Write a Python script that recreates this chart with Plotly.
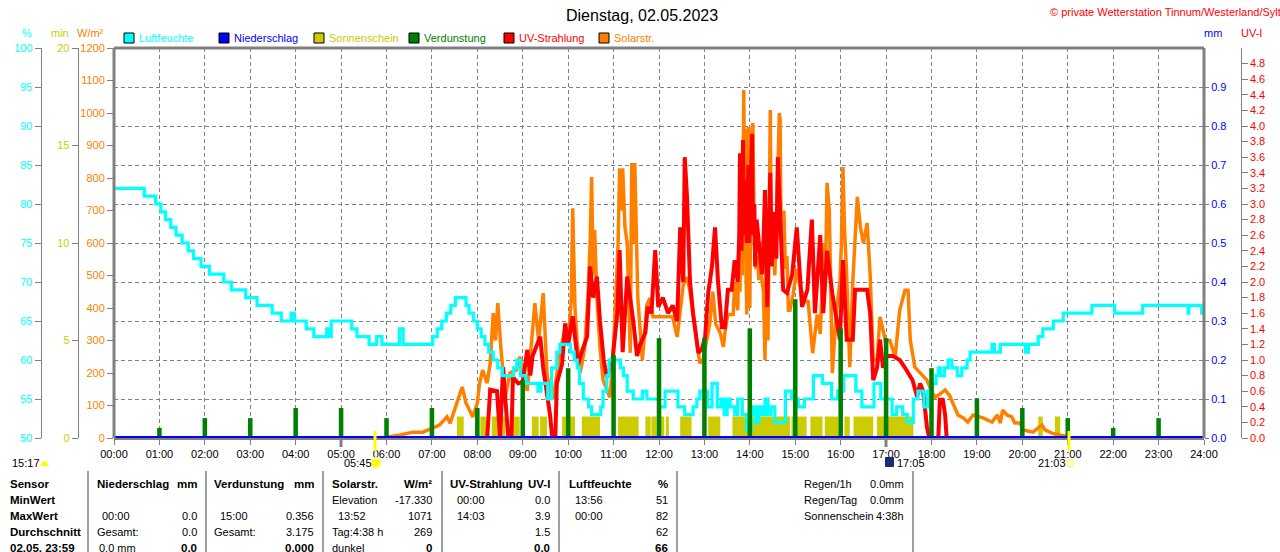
import plotly.graph_objects as go

# Wetterdaten Dienstag, 02.05.2023
hum_time = ["00:00", "00:40", "00:55", "01:02", "01:08", "01:15", "01:22", "01:30", "01:38", "01:45",
            "01:55", "02:06", "02:25", "02:35", "02:54", "03:09", "03:29", "03:41", "03:54", "03:58",
            "04:14", "04:24", "04:41", "04:45", "04:47", "05:14", "05:21", "05:37", "05:47", "05:54",
            "06:17", "06:22", "07:01", "07:07", "07:13", "07:19", "07:25", "07:31", "07:45", "07:49",
            "07:55", "08:00", "08:05", "08:10", "08:15", "08:21", "08:27", "08:33", "08:48", "08:52",
            "08:57", "09:04", "09:20", "09:24", "09:33", "09:38", "09:45", "09:49", "10:03", "10:08",
            "10:12", "10:15", "10:20", "10:27", "10:31", "10:43", "10:46", "10:51", "10:54", "11:09",
            "11:13", "11:18", "11:26", "11:38", "11:44", "12:00", "12:08", "12:25", "12:34", "12:45",
            "12:50", "12:54", "13:04", "13:10", "13:17", "13:22", "13:26", "13:30", "13:34", "13:40",
            "13:44", "13:50", "13:56", "14:02", "14:05", "14:08", "14:12", "14:16", "14:20", "14:24",
            "14:28", "14:33", "14:38", "14:47", "14:55", "15:04", "15:12", "15:24", "15:36", "15:48",
            "15:56", "16:04", "16:20", "16:28", "16:44", "16:53", "17:00", "17:08", "17:14", "17:22",
            "17:28", "17:36", "17:42", "17:50", "17:55", "18:01", "18:06", "18:09", "18:12", "18:17",
            "18:22", "18:27", "18:34", "18:40", "18:47", "18:51", "19:20", "19:23", "19:31", "20:04",
            "20:08", "20:21", "20:27", "20:41", "20:54", "21:32", "22:02", "22:39", "23:39", "23:40",
            "23:57", "24:00"]
hum_val = [82, 81, 80, 79, 78, 77, 76, 75, 74, 73,
           72, 71, 70, 69, 68, 67, 66, 65, 66, 65,
           64, 63, 64, 63, 65, 64, 63, 62, 63, 62,
           64, 62, 63, 64, 65, 66, 67, 68, 67, 66,
           65, 64, 63, 62, 61, 60, 59, 58, 59, 60,
           58, 57, 56, 57, 55, 59, 61, 62, 61, 60,
           59, 57, 55, 54, 53, 54, 56, 58, 60, 59,
           58, 56, 55, 56, 55, 54, 56, 54, 53, 54,
           55, 56, 54, 57, 54, 55, 53, 55, 54, 53,
           55, 53, 51, 53, 54, 52, 54, 53, 55, 53,
           54, 52, 52, 56, 55, 54, 55, 58, 57, 55,
           56, 58, 56, 54, 57, 55, 55, 53, 54, 53,
           52, 55, 56, 54, 56, 57, 58, 59, 58, 59,
           60, 59, 58, 59, 60, 61, 62, 61, 62, 61,
           62, 63, 64, 65, 66, 67, 66, 67, 66, 67,
           66, 66]

solar_time = ["05:45", "06:00", "06:18", "06:35", "06:48", "07:01", "07:10", "07:20", "07:24", "07:33",
              "07:40", "07:45", "07:54", "08:00", "08:03", "08:07", "08:13", "08:17", "08:21", "08:24",
              "08:27", "08:31", "08:37", "08:43", "08:52", "08:56", "09:06", "09:16", "09:21", "09:27",
              "09:32", "09:36", "09:40", "09:49", "09:56", "10:00", "10:04", "10:06", "10:09", "10:12",
              "10:16", "10:22", "10:26", "10:29", "10:31", "10:33", "10:35", "10:38", "10:42", "10:46",
              "10:55", "10:59", "11:04", "11:06", "11:08", "11:10", "11:12", "11:15", "11:18", "11:22",
              "11:24", "11:26", "11:28", "11:32", "11:38", "11:44", "11:48", "11:52", "12:05", "12:18",
              "12:24", "12:32", "12:37", "12:41", "12:52", "12:54", "12:58", "13:03", "13:07", "13:11",
              "13:15", "13:21", "13:25", "13:27", "13:31", "13:38", "13:40", "13:44", "13:46", "13:47",
              "13:49", "13:50", "13:51", "13:52", "13:53", "13:54", "13:55", "13:56", "13:57", "13:58",
              "13:59", "14:00", "14:01", "14:02", "14:03", "14:04", "14:05", "14:06", "14:08", "14:10",
              "14:12", "14:14", "14:16", "14:18", "14:20", "14:22", "14:24", "14:26", "14:27", "14:28",
              "14:29", "14:31", "14:33", "14:35", "14:37", "14:39", "14:40", "14:41", "14:43", "14:45",
              "14:47", "14:49", "14:51", "14:53", "14:57", "15:02", "15:06", "15:13", "15:17", "15:23",
              "15:29", "15:33", "15:38", "15:40", "15:42", "15:45", "15:49", "15:54", "15:59", "16:01",
              "16:03", "16:05", "16:08", "16:12", "16:16", "16:19", "16:22", "16:26", "16:30", "16:35",
              "16:39", "16:43", "16:48", "16:52", "16:59", "17:05", "17:12", "17:18", "17:25", "17:29",
              "17:32", "17:38", "17:45", "17:54", "18:01", "18:05", "18:11", "18:18", "18:24", "18:31",
              "18:35", "18:42", "18:48", "18:55", "19:08", "19:20", "19:27", "19:31", "19:34", "19:40",
              "19:46", "19:50", "19:57", "20:01", "20:14", "20:21", "20:26", "20:30", "20:39", "20:50",
              "20:56", "21:02"]
solar_val = [0, 2, 9, 18, 18, 31, 40, 65, 45, 108,
             157, 108, 65, 108, 169, 209, 169, 230, 384, 300,
             415, 280, 126, 200, 210, 250, 145, 415, 300, 446,
             200, 138, 120, 260, 340, 300, 420, 707, 400, 290,
             200, 280, 430, 600, 803, 500, 640, 430, 280, 180,
             125, 230, 500, 600, 830, 700, 830, 650, 600, 262,
             846, 600, 846, 430, 240, 410, 430, 373, 373, 373,
             311, 470, 495, 450, 260, 230, 240, 300, 350, 450,
             350, 323, 280, 323, 380, 380, 480, 393, 600, 450,
             850, 500, 1040, 1071, 700, 950, 500, 380, 900, 957,
             600, 400, 700, 950, 957, 969, 800, 600, 520, 560,
             486, 520, 486, 450, 240, 600, 300, 900, 1009, 700,
             550, 600, 500, 650, 800, 1000, 980, 700, 600, 700,
             520, 560, 393, 393, 440, 520, 470, 420, 420, 261,
             380, 320, 600, 500, 785, 700, 200, 380, 480, 600,
             834, 650, 500, 218, 480, 600, 742, 650, 600, 661,
             500, 240, 240, 373, 300, 300, 250, 393, 455, 455,
             300, 218, 200, 178, 138, 126, 135, 148, 130, 95,
             71, 62, 49, 71, 62, 49, 71, 46, 86, 70,
             65, 46, 46, 25, 18, 31, 40, 25, 15, 9,
             6, 0]

uv_time = ["08:00", "08:13", "08:17", "08:23", "08:26", "08:30", "08:34", "08:37", "08:41", "08:45",
           "08:47", "08:54", "09:00", "09:06", "09:10", "09:13", "09:23", "09:27", "09:32", "09:36",
           "09:39", "09:43", "09:45", "09:52", "09:56", "10:00", "10:06", "10:13", "10:18", "10:25",
           "10:29", "10:33", "10:38", "10:42", "10:47", "10:51", "10:58", "11:05", "11:08", "11:12",
           "11:18", "11:22", "11:26", "11:31", "11:35", "11:42", "11:45", "11:50", "11:55", "11:59",
           "12:05", "12:12", "12:18", "12:24", "12:28", "12:32", "12:34", "12:37", "12:39", "12:41",
           "12:45", "12:50", "12:52", "12:57", "13:01", "13:05", "13:10", "13:14", "13:18", "13:23",
           "13:27", "13:31", "13:36", "13:40", "13:44", "13:46", "13:47", "13:49", "13:50", "13:51",
           "13:52", "13:54", "13:56", "13:58", "13:59", "14:01", "14:03", "14:04", "14:06", "14:07",
           "14:09", "14:11", "14:14", "14:16", "14:18", "14:20", "14:23", "14:25", "14:27", "14:29",
           "14:31", "14:33", "14:35", "14:37", "14:40", "14:44", "14:49", "14:56", "15:02", "15:06",
           "15:09", "15:16", "15:22", "15:26", "15:33", "15:37", "15:42", "15:49", "15:53", "15:59",
           "16:03", "16:08", "16:16", "16:19", "16:28", "16:35", "16:39", "16:43", "16:48", "16:52",
           "16:56", "17:01", "17:09", "17:18", "17:25", "17:31", "17:35", "17:41", "17:45", "17:49",
           "17:51", "17:54", "17:57", "18:09", "18:11", "18:15", "18:18", "18:20"]
uv_val = [0, 0, 0.62, 0.6, 0.6, 0, 0.91, 0.5, 0, 0,
          0.78, 0.7, 0.72, 1.13, 0.8, 1.05, 1.3, 0.9, 0.6, 0.3,
          0, 0, 0.7, 0.95, 1.47, 1.2, 1.56, 0.95, 1.1, 1.3,
          2.2, 1.8, 2.07, 1.5, 1.0, 0.78, 0.95, 1.6, 2.41, 1.1,
          2.07, 1.8, 1.5, 1.05, 1.2, 1.35, 1.68, 1.6, 2.41, 1.68,
          1.8, 1.6, 1.7, 1.5, 2.7, 2.0, 3.6, 3.09, 2.5, 2.0,
          1.6, 1.2, 1.09, 1.15, 1.3, 1.86, 2.2, 2.7, 2.0, 1.42,
          1.42, 1.9, 1.9, 2.28, 2.0, 2.6, 3.65, 2.4, 3.0, 3.82,
          2.6, 3.3, 2.5, 3.5, 2.5, 3.1, 3.9, 2.6, 3.0, 2.2,
          2.8, 2.6, 2.3, 2.1, 2.5, 3.18, 1.68, 2.6, 3.4, 2.2,
          2.9, 2.6, 2.3, 3.6, 2.8, 1.9, 1.86, 2.1, 2.7, 2.0,
          1.68, 1.9, 2.8, 1.6, 2.6, 1.6, 2.4, 1.85, 1.6, 1.26,
          2.28, 1.26, 1.26, 1.9, 1.9, 1.9, 1.6, 0.74, 0.9, 1.26,
          0.9, 1.05, 1.05, 1.0, 0.9, 0.8, 0.74, 0.53, 0.7, 0.6,
          0.42, 0.14, 0, 0, 0.49, 0.49, 0.3, 0]

evap_time = ["01:00", "02:00", "03:00", "04:00", "05:00", "06:00", "07:00", "08:00", "09:00", "10:00",
             "11:00", "12:00", "13:00", "14:00", "15:00", "16:00", "17:00", "18:00", "19:00", "20:00",
             "21:00", "22:00", "23:00"]
evap_val = [0.026, 0.051, 0.051, 0.077, 0.077, 0.051, 0.077, 0.077, 0.149, 0.179,
            0.213, 0.256, 0.256, 0.281, 0.356, 0.281, 0.256, 0.179, 0.102, 0.077,
            0.051, 0.026, 0.051]

rain_time = ["00:00", "24:00"]
rain_val = [0.0, 0.0]

sun_start = ["07:33", "08:04", "08:19", "08:43", "09:12", "09:23", "09:52", "10:18", "11:06", "11:42",
             "11:50", "12:01", "12:09", "12:28", "13:05", "13:37", "14:55", "15:20", "15:39", "16:05",
             "16:17", "16:48", "20:21", "20:43"]
sun_end = ["07:42", "08:12", "08:37", "08:56", "09:21", "09:32", "10:09", "10:42", "11:33", "11:49",
           "11:57", "12:07", "12:13", "12:43", "13:21", "14:53", "15:15", "15:36", "15:57", "16:12",
           "16:43", "17:36", "20:27", "20:50"]
sun_min = [1.1] * len(sun_start)

hour_labels = ["%02d:00" % h for h in range(25)]

# Zusammenfassung unten
table = [
    (8, 484, "Sensor", "left", True), (8, 500, "MinWert", "left", True), (8, 516, "MaxWert", "left", True),
    (8, 532, "Durchschnitt", "left", True), (8, 548, "02.05. 23:59", "left", True),
    (95, 484, "Niederschlag", "left", True), (199, 484, "mm", "right", True),
    (100, 516, "00:00", "left", False), (199, 516, "0.0", "right", False),
    (95, 532, "Gesamt:", "left", False), (199, 532, "0.0", "right", False),
    (97, 548, "0.0 mm", "left", False), (199, 548, "0.0", "right", True),
    (212, 484, "Verdunstung", "left", True), (316, 484, "mm", "right", True),
    (218, 516, "15:00", "left", False), (316, 516, "0.356", "right", False),
    (212, 532, "Gesamt:", "left", False), (316, 532, "3.175", "right", False),
    (316, 548, "0.000", "right", True),
    (330, 484, "Solarstr.", "left", True), (434, 484, "W/m²", "right", True),
    (330, 500, "Elevation", "left", False), (434, 500, "-17.330", "right", False),
    (336, 516, "13:52", "left", False), (434, 516, "1071", "right", False),
    (330, 532, "Tag:4:38 h", "left", False), (434, 532, "269", "right", False),
    (330, 548, "dunkel", "left", False), (434, 548, "0", "right", True),
    (448, 484, "UV-Strahlung", "left", True), (552, 484, "UV-I", "right", True),
    (455, 500, "00:00", "left", False), (552, 500, "0.0", "right", False),
    (455, 516, "14:03", "left", False), (552, 516, "3.9", "right", False),
    (552, 532, "1.5", "right", False), (552, 548, "0.0", "right", True),
    (567, 484, "Luftfeuchte", "left", True), (670, 484, "%", "right", True),
    (573, 500, "13:56", "left", False), (670, 500, "51", "right", False),
    (573, 516, "00:00", "left", False), (670, 516, "82", "right", False),
    (670, 532, "62", "right", False), (670, 548, "66", "right", True),
    (802, 484, "Regen/1h", "left", False), (906, 484, "0.0mm", "right", False),
    (802, 500, "Regen/Tag", "left", False), (906, 500, "0.0mm", "right", False),
    (802, 516, "Sonnenschein", "left", False), (906, 516, "4:38h", "right", False),
]
table_lines = [88, 206, 323, 442, 559, 677, 913]

W, H = 1280, 552
FONT = "Liberation Sans"
FS = 11
GRAY = "#808080"


def hrs(lst):
    return [int(t[:2]) + int(t[3:]) / 60 for t in lst]


def px(x):
    return x / W


def py(y):
    return 1 - y / H


fig = go.Figure()

# Sonnenschein (min)
s0 = hrs(sun_start)
s1 = hrs(sun_end)
fig.add_trace(go.Bar(x=s0, y=sun_min, width=[b - a for a, b in zip(s0, s1)], offset=0,
                     marker=dict(color="#CCCC00", line_width=0), yaxis="y"))
# Solarstrahlung
fig.add_trace(go.Scatter(x=hrs(solar_time), y=solar_val, mode="lines",
                         line=dict(color="#FF8000", width=3.5), yaxis="y2"))
# UV
fig.add_trace(go.Scatter(x=hrs(uv_time), y=uv_val, mode="lines",
                         line=dict(color="#FF0000", width=4), yaxis="y3"))
# Luftfeuchte
fig.add_trace(go.Scatter(x=hrs(hum_time), y=hum_val, mode="lines",
                         line=dict(color="#00FFFF", width=3.2, shape="hv"), yaxis="y4"))
# Verdunstung + Niederschlag
fig.add_trace(go.Bar(x=hrs(evap_time), y=evap_val, width=0.1,
                     marker=dict(color="#008000", line_width=0), yaxis="y5"))
fig.add_trace(go.Scatter(x=hrs(rain_time), y=rain_val, mode="lines",
                         line=dict(color="#0000FF", width=4), yaxis="y5"))

dom = [py(438), py(48)]
tickfont = dict(family=FONT, size=FS)
common = dict(domain=dom, ticks="outside", ticklen=6, tickcolor=GRAY, showgrid=False,
              zeroline=False, fixedrange=True, automargin=False)

fig.update_layout(
    template="none",
    width=W, height=H, margin=dict(l=0, r=0, t=0, b=0, pad=0, autoexpand=False),
    paper_bgcolor="white", plot_bgcolor="white",
    showlegend=False, barmode="overlay",
    font=dict(family=FONT, size=FS, color="black"),
    xaxis=dict(domain=[px(114), px(1204)], range=[0, 24], tickvals=list(range(25)),
               ticktext=hour_labels, ticks="outside", ticklen=5, tickcolor=GRAY,
               showline=True, linecolor=GRAY, linewidth=2, anchor="y", automargin=False,
               showgrid=True, gridcolor=GRAY, griddash="4px,3px", gridwidth=1,
               zeroline=False, fixedrange=True,
               tickfont=dict(family=FONT, size=FS, color="black")),
    yaxis=dict(range=[0, 20], tickvals=[0, 5, 10, 15, 20], anchor="free", position=px(77.7),
               showline=True, linecolor=GRAY, linewidth=1,
               tickfont=dict(tickfont, color="#CCCC00"), **common),
    yaxis2=dict(range=[0, 1200], dtick=100, overlaying="y", anchor="x", side="left",
                tickfont=dict(tickfont, color="#FF8000"), **common),
    yaxis3=dict(range=[0, 5], tickvals=[i / 5 for i in range(25)],
                ticktext=["%.1f" % (i / 5) for i in range(25)], overlaying="y",
                anchor="free", position=px(1240.7), side="right", showline=True,
                linecolor=GRAY, linewidth=1,
                tickfont=dict(tickfont, color="#FF0000"), **common),
    yaxis4=dict(range=[50, 100], dtick=5, overlaying="y", anchor="free", position=px(40.7),
                side="left", showline=True, linecolor=GRAY, linewidth=1,
                tickfont=dict(tickfont, color="#00FFFF"), **common),
    yaxis5=dict(range=[0, 1.0], tickvals=[i / 10 for i in range(10)],
                ticktext=["%.1f" % (i / 10) for i in range(10)], overlaying="y",
                anchor="x", side="right", domain=dom, ticks="outside", ticklen=4,
                tickcolor=GRAY, showgrid=True, gridcolor=GRAY, griddash="4px,3px",
                gridwidth=1, zeroline=False, fixedrange=True, automargin=False,
                tickfont=dict(tickfont, color="#0000FF")),
)

shapes = []
ann = []

# Rahmen
for x0, y0, x1, y1 in [(114, 48, 114, 438), (114, 48, 1204, 48), (1204, 48, 1204, 438)]:
    shapes.append(dict(type="line", xref="paper", yref="paper", x0=px(x0), y0=py(y0),
                       x1=px(x1), y1=py(y1), line=dict(color=GRAY, width=3)))

# Titel
ann.append(dict(x=px(642), y=py(15), text="Dienstag, 02.05.2023", showarrow=False,
                font=dict(size=16, color="black"), xanchor="center", yanchor="middle"))
ann.append(dict(x=px(1048), y=py(12), text="© private Wetterstation Tinnum/Westerland/Sylt",
                showarrow=False, font=dict(color="#FF0000"), xanchor="left",
                yanchor="middle"))

# Achsentitel
for x, t, c in [(26.5, "%", "#00FFFF"), (59.5, "min", "#CCCC00"), (90, "W/m²", "#FF8000"),
                (1212.5, "mm", "#0000FF"), (1251, "UV-I", "#FF0000")]:
    ann.append(dict(x=px(x), y=py(33), text=t, showarrow=False, font=dict(color=c),
                    xanchor="center", yanchor="middle"))

# Legende
legend = [("Luftfeuchte", "#00FFFF"), ("Niederschlag", "#0000FF"), ("Sonnenschein", "#CCCC00"),
          ("Verdunstung", "#008000"), ("UV-Strahlung", "#FF0000"), ("Solarstr.", "#FF8000")]
for i, (name, c) in enumerate(legend):
    x0 = 124 + 95 * i
    shapes.append(dict(type="rect", xref="paper", yref="paper", x0=px(x0), x1=px(x0 + 10),
                       y0=py(43), y1=py(33), fillcolor=c, line=dict(color="black", width=1)))
    ann.append(dict(x=px(x0 + 13), y=py(38), text=name, showarrow=False, font=dict(color=c),
                    xanchor="left", yanchor="middle"))

# Markierungen unter der Zeitachse
for x in [341, 886]:
    shapes.append(dict(type="line", xref="paper", yref="paper", x0=px(x), x1=px(x),
                       y0=py(438), y1=py(447), line=dict(color=GRAY, width=3)))
for x in [375, 1069]:
    shapes.append(dict(type="line", xref="paper", yref="paper", x0=px(x), x1=px(x),
                       y0=py(431), y1=py(451), line=dict(color="#FFFF00", width=3)))
shapes.append(dict(type="path", xref="paper", yref="paper",
                   path="M %f,%f Q %f,%f %f,%f Z" % (px(40), py(466), px(44.5), py(456), px(49), py(466)),
                   fillcolor="#FFFF00", line_width=0))
shapes.append(dict(type="circle", xref="paper", yref="paper", x0=px(371), x1=px(381),
                   y0=py(468), y1=py(458), fillcolor="#FFFF00", line=dict(color="#FFF8B0", width=2)))
shapes.append(dict(type="circle", xref="paper", yref="paper", x0=px(1066), x1=px(1074),
                   y0=py(467), y1=py(459), fillcolor="#FFFFC0", line=dict(color="#FFF080", width=1)))
shapes.append(dict(type="rect", xref="paper", yref="paper", x0=px(885), x1=px(894),
                   y0=py(467), y1=py(457), fillcolor="#1C2A7A", line_width=0))
for x, t in [(10, "15:17"), (342, "05:45"), (895, "17:05"), (1036, "21:03")]:
    ann.append(dict(x=px(x), y=py(463), text=t, showarrow=False, xanchor="left",
                    yanchor="middle", font=dict(color="black")))

# Tabelle
for x in table_lines:
    shapes.append(dict(type="line", xref="paper", yref="paper", x0=px(x), x1=px(x),
                       y0=py(471), y1=py(552), line=dict(color=GRAY, width=1.5)))
for x, y, t, al, bold in table:
    ann.append(dict(x=px(x), y=py(y), text="<b>%s</b>" % t if bold else t, showarrow=False,
                    xanchor=al, yanchor="middle",
                    font=dict(color="black", size=11.5 if bold else FS)))

for a in ann:
    a.setdefault("xref", "paper")
    a.setdefault("yref", "paper")

fig.update_layout(shapes=shapes, annotations=ann)

fig.write_html("out.html", config={"displayModeBar": False},
               post_script="document.body.style.margin='0';")
